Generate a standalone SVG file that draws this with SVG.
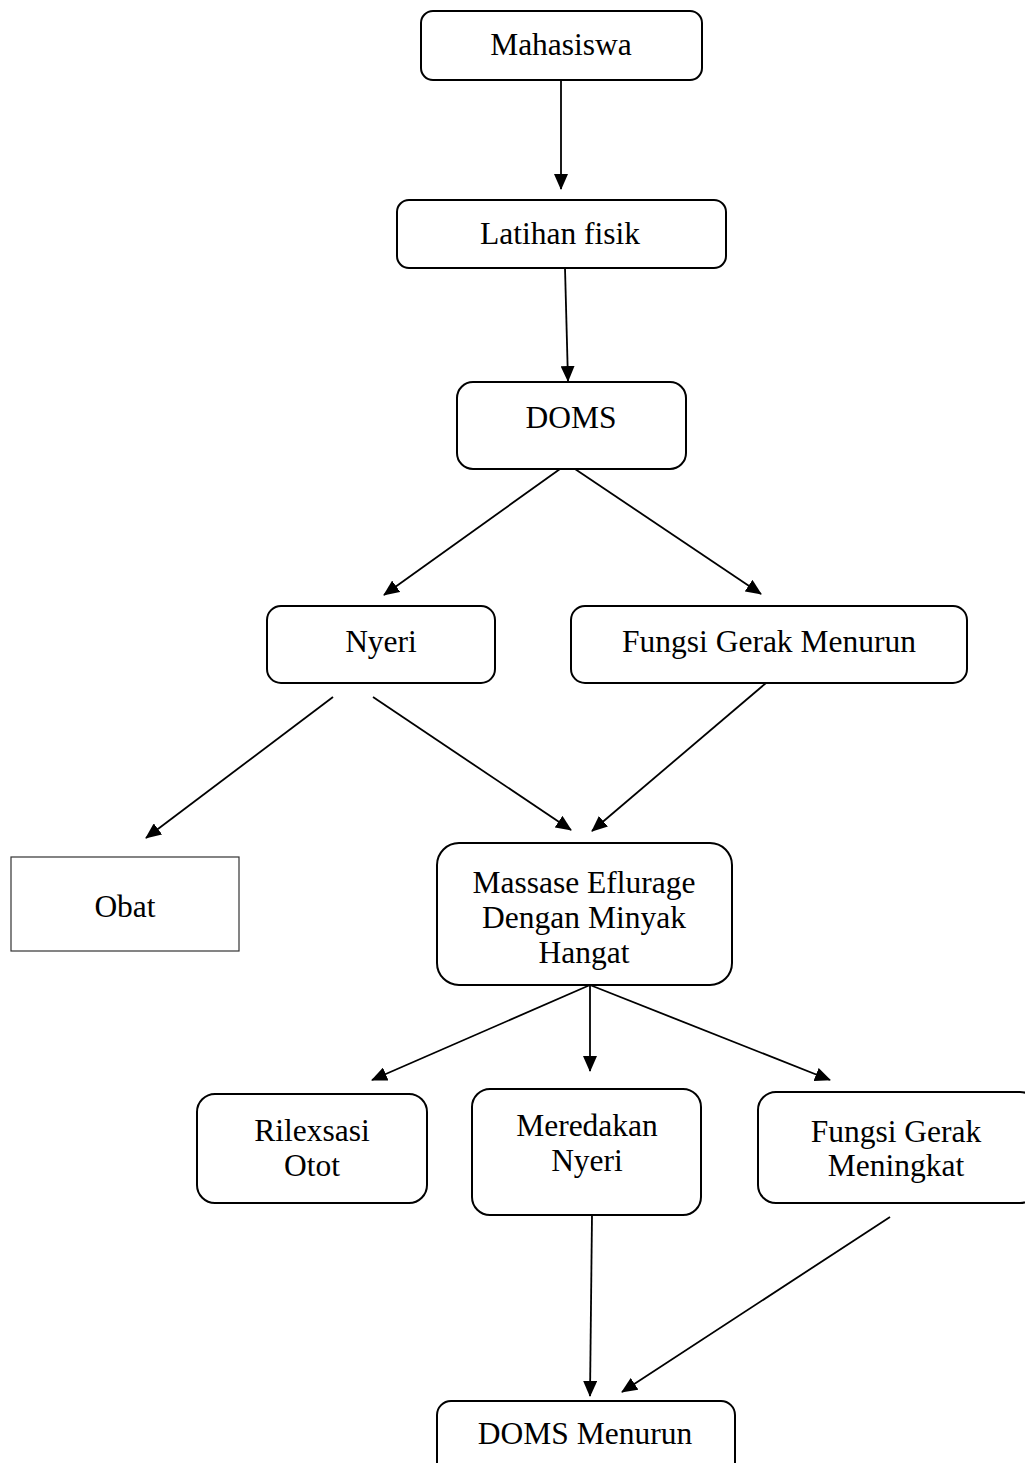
<svg xmlns="http://www.w3.org/2000/svg" width="1025" height="1463" viewBox="0 0 1025 1463">
<style>
.box{fill:#fff;stroke:#000;stroke-width:2}
.sq{fill:#fff;stroke:#333;stroke-width:1.2}
.t{font-family:"Liberation Serif","Times New Roman",serif;font-size:31.5px;fill:#000;text-anchor:middle}
.c{stroke:#000;stroke-width:1.8;fill:none;marker-end:url(#ah)}
</style>
<defs>
<marker id="ah" markerUnits="userSpaceOnUse" markerWidth="16" markerHeight="14" refX="15" refY="7" orient="auto">
<path d="M0,0 L16,7 L0,14 Z" fill="#000"/>
</marker>
</defs>
<rect width="1025" height="1463" fill="#fff"/>
<g id="connectors">
<line class="c" x1="561" y1="80" x2="561" y2="189"/>
<line class="c" x1="565" y1="268" x2="568" y2="381"/>
<line class="c" x1="560" y1="469" x2="384" y2="595"/>
<line class="c" x1="575" y1="469" x2="761" y2="594"/>
<line class="c" x1="333" y1="697" x2="146" y2="838"/>
<line class="c" x1="373" y1="697" x2="571" y2="830"/>
<line class="c" x1="766" y1="683" x2="592" y2="831"/>
<line class="c" x1="590" y1="985" x2="372" y2="1080"/>
<line class="c" x1="590" y1="985" x2="590" y2="1071"/>
<line class="c" x1="590" y1="985" x2="830" y2="1080"/>
<line class="c" x1="592" y1="1215" x2="590" y2="1396"/>
<line class="c" x1="890" y1="1217" x2="622" y2="1392"/>
</g>
<g id="mahasiswa"><rect class="box" x="421" y="11" width="281" height="69" rx="12"/><text class="t" x="561" y="55">Mahasiswa</text></g>
<g id="latihan"><rect class="box" x="397" y="200" width="329" height="68" rx="12"/><text class="t" x="560" y="244">Latihan fisik</text></g>
<g id="doms"><rect class="box" x="457" y="382" width="229" height="87" rx="16"/><text class="t" x="571" y="428">DOMS</text></g>
<g id="nyeri"><rect class="box" x="267" y="606" width="228" height="77" rx="14"/><text class="t" x="381" y="652">Nyeri</text></g>
<g id="fungsi-menurun"><rect class="box" x="571" y="606" width="396" height="77" rx="14"/><text class="t" x="769" y="652">Fungsi Gerak Menurun</text></g>
<g id="obat"><rect class="sq" x="11" y="857" width="228" height="94"/><text class="t" x="125" y="917">Obat</text></g>
<g id="massase"><rect class="box" x="437" y="843" width="295" height="142" rx="22"/><text class="t" x="584" y="893">Massase Eflurage</text><text class="t" x="584" y="928">Dengan Minyak</text><text class="t" x="584" y="963">Hangat</text></g>
<g id="rilexsasi"><rect class="box" x="197" y="1094" width="230" height="109" rx="18"/><text class="t" x="312" y="1141">Rilexsasi</text><text class="t" x="312" y="1176">Otot</text></g>
<g id="meredakan"><rect class="box" x="472" y="1089" width="229" height="126" rx="18"/><text class="t" x="587" y="1136">Meredakan</text><text class="t" x="587" y="1171">Nyeri</text></g>
<g id="fungsi-meningkat"><rect class="box" x="758" y="1092" width="280" height="111" rx="18"/><text class="t" x="896" y="1142">Fungsi Gerak</text><text class="t" x="896" y="1176">Meningkat</text></g>
<g id="doms-menurun"><rect class="box" x="437" y="1401" width="298" height="80" rx="14"/><text class="t" x="585" y="1444">DOMS Menurun</text></g>
</svg>
